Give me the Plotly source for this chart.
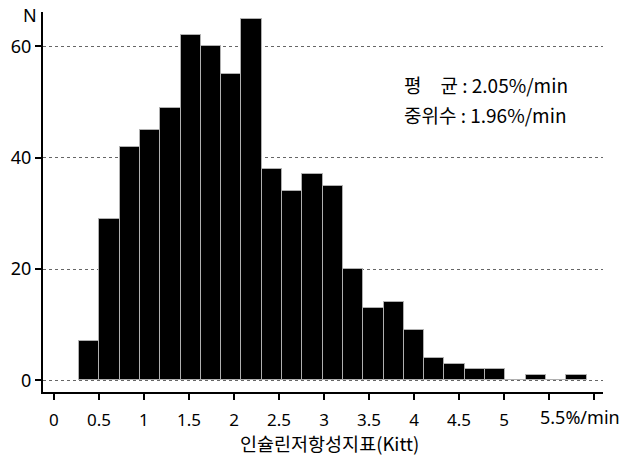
import numpy as np
import plotly.graph_objects as go

# Histogram of the insulin tolerance index (Kitt), counts per bin
counts = [7, 29, 42, 45, 49, 62, 60, 55, 65, 38, 34, 37, 35, 20, 13, 14, 9, 4, 3, 2, 2, 0, 1, 0, 1]
bin_start = 0.278
bin_width = 0.2256

x_tick_vals = [0, 0.5, 1, 1.5, 2, 2.5, 3, 3.5, 4, 4.5, 5, 5.5, 6]
x_tick_text = ["0", "0.5", "1", "1.5", "2", "2.5", "3", "3.5", "4", "4.5", "5", "", ""]
y_tick_vals = [0, 20, 40, 60]

stats_lines = ["평\u3000균 : 2.05%/min", "중위수 : 1.96%/min"]
x_title = "인슐린저항성지표(Kitt)"

centers = bin_start + bin_width * (np.arange(len(counts)) + 0.5)

FONT = "'Noto Sans', 'Noto Sans CJK KR', sans-serif"
KFONT = "'Noto Sans CJK KR', 'Noto Sans', sans-serif"

fig = go.Figure(
    go.Bar(
        x=centers,
        y=counts,
        width=bin_width,
        marker=dict(color="black", line=dict(color="#b0b0b0", width=1)),
        hoverinfo="x+y",
    )
)

fig.update_layout(
    width=624,
    height=459,
    margin=dict(l=43, r=21, t=12, b=67),
    paper_bgcolor="white",
    plot_bgcolor="white",
    showlegend=False,
    bargap=0,
    font=dict(family=FONT, size=17, color="black"),
)

fig.update_xaxes(
    range=[-0.122, 6.1],
    tickvals=x_tick_vals,
    ticktext=x_tick_text,
    ticks="outside",
    ticklen=6,
    tickwidth=2,
    tickcolor="black",
    ticklabelstandoff=6,
    showline=True,
    linecolor="black",
    linewidth=2,
    showgrid=False,
    zeroline=False,
    tickfont=dict(size=17),
)

fig.update_yaxes(
    range=[-2.1, 66.2],
    tickvals=y_tick_vals,
    ticks="outside",
    ticklen=6,
    tickwidth=2,
    tickcolor="black",
    showline=True,
    linecolor="black",
    linewidth=2,
    showgrid=True,
    gridcolor="#666666",
    gridwidth=1,
    griddash="dot",
    zeroline=False,
    tickfont=dict(size=18),
)

# Last x label carries the unit and runs past its tick
fig.add_annotation(
    x=5.38, y=(392 - 417) / 380, xref="x", yref="paper",
    text="5.5%/min", showarrow=False, xanchor="left", yanchor="middle",
    font=dict(size=18),
)

# Axis titles
fig.add_annotation(
    x=-0.023, y=0.992, xref="paper", yref="paper",
    text="N", showarrow=False, xanchor="center", yanchor="middle",
    font=dict(size=18),
)
fig.add_annotation(
    x=0.511, y=(392 - 443) / 380, xref="paper", yref="paper",
    text=x_title, showarrow=False, xanchor="center", yanchor="middle",
    font=dict(family=KFONT, size=18.5),
)

# Summary statistics
for i, line in enumerate(stats_lines):
    fig.add_annotation(
        x=0.6405, y=(392 - 84 - 31 * i) / 380, xref="paper", yref="paper",
        text=line, showarrow=False, xanchor="left", yanchor="middle",
        font=dict(family=KFONT, size=19),
    )

fig.write_html("out.html")
